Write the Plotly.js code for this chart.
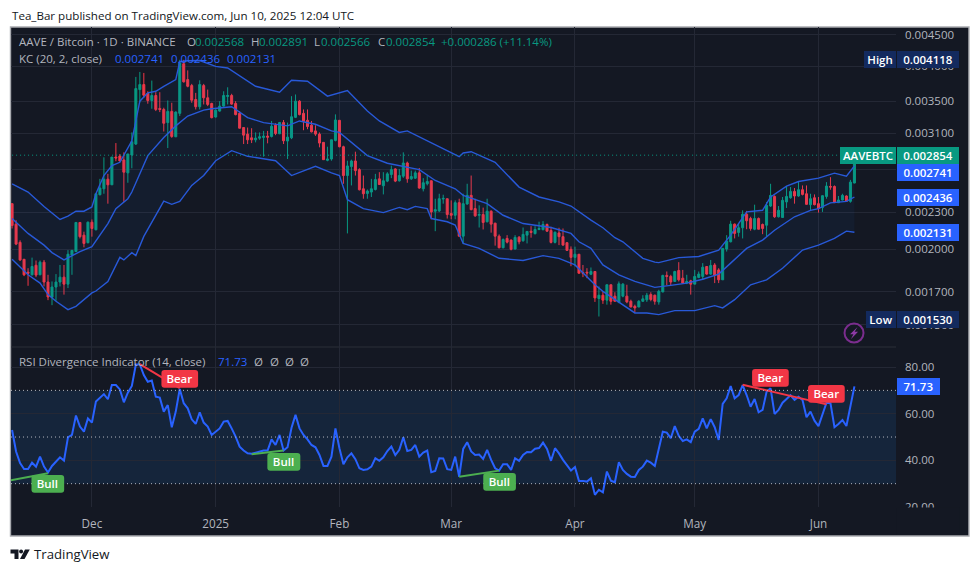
<!DOCTYPE html>
<html><head><meta charset="utf-8">
<script src="https://cdn.plot.ly/plotly-3.0.1.min.js"></script>
<style>html,body{margin:0;padding:0;background:#fff}#c{width:980px;height:572px}</style></head>
<body><div id="c"></div>
<script>
// AAVE/BTC daily candles, values in units of 0.000001 BTC, first candle 2024-11-11
const firstDay = '2024-11-11';
const opens = [2375,2198,2051,1924,1832,1814,1881,1814,1903,1765,1666,1732,1765,1798,1751,1955,1981,2212,2108,2049,2214,2152,2457,2513,2606,2551,2834,2845,2803,2669,2856,2977,3659,3729,3605,3511,3578,3407,3394,3229,3369,3060,3344,4035,3800,3715,3524,3429,3715,3547,3472,3298,3373,3437,3565,3578,3472,3344,3169,3091,3048,3025,3044,3052,3068,3064,3197,3095,3229,3011,3048,3294,3502,3344,3257,3197,3129,3091,2996,2799,2813,3018,3257,2947,2642,2733,2792,2702,2513,2469,2482,2506,2609,2542,2587,2652,2709,2590,2636,2771,2609,2616,2669,2513,2561,2590,2308,2311,2417,2420,2288,2273,2384,2100,2372,2451,2331,2273,2279,2218,2308,2206,2100,2010,2082,2069,2000,2092,2064,2108,2140,2120,2154,2152,2195,2146,2051,2126,2096,2049,1998,1938,1961,1830,1832,1818,1837,1658,1679,1648,1747,1673,1635,1673,1673,1641,1610,1606,1641,1650,1683,1679,1637,1700,1810,1803,1769,1844,1791,1758,1773,1751,1796,1803,1872,1819,1883,1848,1780,2000,2056,2198,2130,2168,2282,2245,2156,2245,2195,2189,2354,2441,2260,2254,2391,2429,2488,2445,2504,2466,2366,2429,2375,2340,2441,2535,2535,2384,2408,2445,2396,2568];
const highs = [2375,2231,2067,1924,1860,1936,1915,1915,1919,1814,1769,1819,1883,1883,1992,1992,2212,2212,2136,2220,2237,2466,2609,2831,2659,2834,2988,2867,2885,2867,3111,3839,3912,3897,3636,3786,3623,3623,3416,3511,3481,3369,4096,4096,3935,3739,3614,3790,3739,3659,3481,3394,3502,3636,3691,3601,3502,3373,3173,3169,3161,3111,3111,3129,3129,3249,3221,3237,3261,3229,3569,3592,3515,3394,3394,3249,3197,3111,2996,2947,3025,3331,3261,2958,2795,2806,2892,2716,2642,2506,2609,2659,2676,2676,2676,2743,2716,2709,2885,2785,2692,2692,2719,2616,2649,2593,2420,2466,2457,2420,2405,2405,2420,2466,2561,2642,2420,2360,2340,2420,2316,2209,2114,2082,2108,2074,2108,2100,2170,2138,2181,2181,2218,2223,2203,2176,2136,2168,2162,2049,2020,2018,1961,1883,1860,1865,1837,1736,1704,1747,1747,1698,1769,1758,1747,1651,1620,1648,1679,1694,1698,1683,1714,1814,1837,1814,1842,1903,1848,1814,1780,1848,1837,1896,1872,1919,1896,1860,2005,2108,2226,2203,2203,2316,2311,2260,2366,2254,2203,2391,2561,2451,2354,2436,2539,2529,2520,2583,2545,2545,2466,2460,2436,2451,2577,2626,2545,2445,2466,2451,2599,2891];
const lows = [2162,2030,1912,1805,1740,1810,1798,1812,1736,1648,1617,1643,1736,1683,1725,1814,1981,2082,2013,2043,2096,2146,2451,2466,2375,2551,2789,2789,2391,2571,2716,2966,3485,3547,3468,3403,3373,3360,3122,2932,3048,3056,3310,3758,3691,3481,3394,3394,3459,3437,3281,3290,3365,3429,3459,3455,3319,3157,2977,2977,2988,2996,3025,2838,2985,3052,3079,3091,2977,2813,3033,3285,3319,3137,3149,3111,3071,2940,2803,2789,2795,3007,2940,2561,2122,2545,2642,2497,2420,2420,2436,2497,2551,2460,2577,2616,2577,2583,2619,2571,2599,2609,2513,2488,2545,2239,2140,2302,2375,2245,2239,2239,2098,2038,2366,2316,2260,2170,2154,2212,2128,2026,2005,2005,2043,1990,1998,2036,2056,2043,2088,2114,2148,2148,2136,2043,2043,2030,2026,1985,1874,1874,1823,1798,1791,1812,1637,1549,1625,1620,1620,1641,1629,1666,1629,1604,1570,1604,1637,1637,1641,1620,1620,1698,1743,1743,1765,1769,1753,1751,1683,1751,1791,1780,1814,1814,1758,1758,1780,1981,2051,2082,2096,2082,2156,2144,2148,2154,2116,2096,2346,2251,2254,2251,2337,2420,2375,2438,2451,2366,2316,2360,2296,2302,2420,2504,2382,2382,2405,2391,2384,2566];
const closes = [2187,2038,1919,1814,1825,1872,1812,1903,1765,1668,1732,1765,1798,1751,1961,1990,2212,2096,2043,2214,2162,2466,2520,2606,2551,2834,2824,2792,2676,2867,3003,3673,3729,3582,3511,3578,3394,3394,3221,3369,3064,3360,4046,3768,3705,3515,3429,3729,3547,3459,3290,3385,3437,3578,3578,3463,3328,3161,3079,3025,3025,3044,3060,3068,3056,3185,3099,3229,3014,3056,3301,3502,3328,3241,3181,3118,3091,2988,2806,2813,3025,3261,2947,2642,2740,2792,2692,2504,2466,2491,2513,2602,2554,2590,2659,2702,2587,2642,2771,2609,2632,2669,2520,2571,2583,2302,2322,2420,2423,2279,2273,2384,2100,2375,2451,2322,2268,2279,2212,2308,2198,2100,2010,2074,2053,1998,2090,2056,2114,2138,2130,2154,2162,2195,2140,2051,2132,2096,2030,1990,1938,1961,1825,1825,1827,1837,1662,1679,1648,1747,1641,1641,1753,1751,1637,1606,1600,1641,1656,1679,1652,1641,1704,1810,1803,1765,1837,1780,1758,1769,1751,1803,1819,1867,1819,1879,1810,1780,2005,2061,2198,2122,2168,2282,2226,2162,2245,2156,2162,2360,2451,2260,2316,2405,2441,2488,2445,2504,2460,2369,2420,2366,2331,2448,2539,2529,2384,2408,2451,2396,2577,2854];
// Keltner channel readings: day number after the first candle, then value (0.000001 BTC)
const kcUpperDays = [0,4,8,12,14,16,18,20,21,23,25,27,30,31,32,34,36,38,41,42,44,47,51,54,61,67,70,74,79,84,89,92,97,99,104,112,113,115,121,127,132,137,140,145,148,151,153,158,161,162,167,172,177,180,184,188,190,194,197,202,206,209,211];
const kcUpper = [2561,2482,2349,2237,2265,2308,2308,2346,2466,2642,2743,2778,3014,3269,3502,3614,3636,3705,3800,4066,4081,4085,3995,3971,3705,3623,3790,3776,3569,3646,3373,3249,3111,3129,3014,2838,2878,2892,2778,2529,2436,2391,2354,2231,2168,2088,2056,1931,1903,1900,1936,1944,1992,2108,2302,2316,2436,2539,2583,2616,2666,2636,2741];
const kcBasisDays = [0,4,8,10,13,15,17,20,22,24,26,29,30,34,38,41,44,48,50,55,59,63,69,72,76,80,82,86,89,94,98,102,106,111,113,119,123,128,135,140,142,145,148,152,156,161,165,169,173,177,180,184,188,191,196,200,202,205,209,211];
const kcBasis = [2245,2122,2030,1973,1919,1948,1981,2018,2108,2203,2331,2420,2482,2849,3052,3189,3310,3385,3403,3429,3290,3229,3189,3249,3209,3129,3111,2958,2849,2768,2737,2702,2593,2513,2451,2375,2273,2203,2170,2122,2056,2005,1883,1814,1769,1730,1743,1758,1784,1819,1896,2005,2069,2148,2260,2316,2331,2382,2396,2436];
const kcLowerDays = [0,4,7,9,11,14,16,20,21,24,27,28,30,31,33,38,40,42,45,48,51,55,59,66,70,76,80,82,84,88,93,97,99,101,104,105,109,111,113,117,122,128,133,137,141,146,148,151,156,159,162,166,171,176,178,181,185,189,193,198,202,206,209,211];
const kcLower = [1924,1814,1758,1683,1641,1590,1610,1694,1706,1769,1938,1919,1973,1951,2098,2398,2369,2396,2545,2642,2795,2903,2842,2795,2642,2737,2669,2642,2411,2331,2296,2342,2322,2351,2331,2245,2218,2190,2043,2005,1931,1915,1951,1931,1883,1747,1704,1651,1570,1570,1560,1584,1584,1614,1600,1651,1747,1780,1860,1992,2030,2082,2140,2131];
// RSI (14), one value per candle
const rsi = [53.0,43.8,38.8,36.3,36.3,39.0,37.3,41.6,37.3,34.8,37.6,39.5,41.3,39.9,49.9,50.9,59.2,54.5,52.3,58.0,56.2,65.2,66.6,68.4,66.2,72.3,72.3,70.4,64.9,69.0,71.9,81.1,81.1,76.6,73.7,74.2,67.3,66.9,60.9,63.7,54.2,60.9,70.6,64.5,62.3,57.6,55.6,60.6,56.2,54.5,50.9,52.3,53.7,56.6,56.9,53.7,50.2,45.9,44.2,43.0,42.8,43.3,43.9,44.2,44.2,49.0,46.6,50.9,44.2,45.6,54.0,59.5,53.7,50.9,49.0,46.6,45.6,42.3,37.6,37.6,41.6,53.7,45.2,38.3,41.3,43.0,40.5,36.6,35.9,36.2,37.3,40.9,39.8,41.3,44.0,45.9,42.3,44.5,49.9,44.0,44.5,46.6,41.6,43.3,44.2,34.9,35.5,40.9,40.8,36.2,35.9,41.6,33.0,44.9,47.8,43.8,42.3,42.5,40.6,44.5,40.2,36.6,35.6,38.3,38.3,35.9,40.9,39.8,42.3,43.6,43.5,45.0,45.3,47.6,44.9,39.8,45.2,43.0,40.2,38.0,35.6,37.1,31.2,31.2,30.9,32.3,25.2,27.4,26.3,35.2,31.3,30.6,39.2,35.9,34.2,33.0,32.9,35.9,37.3,39.9,39.0,37.6,44.5,52.3,51.9,49.5,54.7,50.5,48.3,49.0,47.8,52.3,53.5,58.0,53.7,57.7,54.2,48.8,64.2,66.6,71.9,66.6,68.0,72.3,68.0,63.0,66.3,60.6,61.6,69.4,70.9,59.9,61.6,64.7,66.3,67.9,65.9,67.3,65.9,58.5,60.9,57.0,54.7,59.5,64.7,64.5,54.2,55.6,57.3,54.7,63.7,71.73];
// Divergence segments: [start day, start RSI, end day, end RSI]
const bullLines = [[-1,31.2,9,34.5],[60,42.6,68,44.2],[112,33.0,122,35.6]];
const bearLines = [[32,81.3,42,71.0],[183,72.4,204,64.0]];
const priceTicks = [0.0045,0.0040,0.0035,0.0031,0.0027,0.0023,0.0020,0.0017,0.0015];
const priceTickLabels = ['0.004500','0.004000','0.003500','0.003100','','0.002300','0.002000','0.001700','0.001500'];
const rsiTicks = [20,40,60,80];
const rsiTickLabels = ['20.00','40.00','60.00','80.00'];
const monthTicks = ['2024-12-01','2025-01-01','2025-02-01','2025-03-01','2025-04-01','2025-05-01','2025-06-01'];
const monthLabels = ['Dec','2025','Feb','Mar','Apr','May','Jun'];

// ---- helpers
const W=980,H=572,L=10.5,R=896,T=27,B=507,SPLIT=347;
const px=x=>(x-L)/(R-L), py=y=>(B-y)/(B-T);
const FONT='"Open Sans", sans-serif';
const BG='#141823', GRID='#242835', TXT='#b2b5be', GREEN='#089981', RED='#f23645', BLUE='#2962ff', BAND='#2859d8', BULL='#4caf50';
const day=i=>{const d=new Date(Date.parse(firstDay+'T00:00:00Z')+i*864e5);return d.toISOString().slice(0,10)};
const dates=opens.map((_,i)=>day(i));
const u=a=>a.map(v=>v/1e6);

const traces=[
 {type:'scatter',mode:'lines',x:kcUpperDays.map(day),y:u(kcUpper),line:{color:BAND,width:1.4},hoverinfo:'skip',xaxis:'x',yaxis:'y'},
 {type:'scatter',mode:'lines',x:kcLowerDays.map(day),y:u(kcLower),line:{color:BAND,width:1.4},fill:'tonexty',fillcolor:'rgba(33,130,243,0.055)',hoverinfo:'skip',xaxis:'x',yaxis:'y'},
 {type:'scatter',mode:'lines',x:kcBasisDays.map(day),y:u(kcBasis),line:{color:BAND,width:1.4},hoverinfo:'skip',xaxis:'x',yaxis:'y'},
 {type:'candlestick',x:dates,open:u(opens),high:u(highs),low:u(lows),close:u(closes),whiskerwidth:0,
  increasing:{line:{color:GREEN,width:1},fillcolor:GREEN},decreasing:{line:{color:RED,width:1},fillcolor:RED},xaxis:'x',yaxis:'y',hoverinfo:'skip'},
 {type:'scatter',mode:'lines',x:dates,y:rsi,line:{color:BLUE,width:2},hoverinfo:'skip',xaxis:'x',yaxis:'y2'}
];
bullLines.forEach(s=>traces.push({type:'scatter',mode:'lines',x:[day(s[0]),day(s[2])],y:[s[1],s[3]],line:{color:BULL,width:2},hoverinfo:'skip',xaxis:'x',yaxis:'y2'}));
bearLines.forEach(s=>traces.push({type:'scatter',mode:'lines',x:[day(s[0]),day(s[2])],y:[s[1],s[3]],line:{color:RED,width:2},hoverinfo:'skip',xaxis:'x',yaxis:'y2'}));

const ann=[];
const rounded=[];
function tag(t,x0,x1,y0,y1,bg,fg,size){ann.push({xref:'paper',yref:'paper',x:px(x0),y:py(y0),xanchor:'left',yanchor:'top',showarrow:false,text:t,
  width:x1-x0,height:y1-y0,bgcolor:bg,borderpad:0,borderwidth:0,align:'center',valign:'middle',font:{family:FONT,size:size||11.5,color:fg||'#fff',weight:600}});}
function pill(t,x0,x1,y0,y1,bg){
  const r=3,X=v=>px(v).toFixed(5),Y=v=>py(v).toFixed(5);
  rounded.push({type:'path',xref:'paper',yref:'paper',layer:'above',fillcolor:bg,line:{width:0},
   path:`M${X(x0+r)},${Y(y0)}L${X(x1-r)},${Y(y0)}Q${X(x1)},${Y(y0)} ${X(x1)},${Y(y0+r)}L${X(x1)},${Y(y1-r)}Q${X(x1)},${Y(y1)} ${X(x1-r)},${Y(y1)}L${X(x0+r)},${Y(y1)}Q${X(x0)},${Y(y1)} ${X(x0)},${Y(y1-r)}L${X(x0)},${Y(y0+r)}Q${X(x0)},${Y(y0)} ${X(x0+r)},${Y(y0)}Z`});
  tag(t,x0,x1,y0,y1,'rgba(0,0,0,0)');
}
function txt(t,x,y,c,s,w){ann.push({xref:'paper',yref:'paper',x:px(x),y:py(y),xanchor:'left',yanchor:'middle',showarrow:false,text:t,align:'left',borderpad:0,font:{family:FONT,size:s||11.5,color:c||TXT,weight:w||400}});}
const NAVY='#132a5e';
tag('High',864,896,51,68,NAVY);
tag('0.004118',897,959,51,68,NAVY);
tag('AAVEBTC',840,896,147,163.7,GREEN);
tag('0.002854',897,959,147,163.7,GREEN);
tag('0.002741',897,959,164.3,181,BLUE);
tag('0.002436',897,959,189,206,BLUE);
tag('0.002131',897,959,224,240.7,BLUE);
tag('Low',866,896,311.3,328,NAVY);
tag('0.001530',897,959,311.3,328,NAVY);
tag('71.73',897,940,378,394.7,BLUE);
pill('Bear',161,197.7,370,387.7,RED);
pill('Bear',752,788.7,369,386.7,RED);
pill('Bear',808,844.7,385,402.7,RED);
pill('Bull',31,63.7,475,492.7,BULL);
pill('Bull',267,300,453,470.7,BULL);
pill('Bull',483,515.7,473,490.7,BULL);
txt('Tea_Bar published on TradingView.com, Jun 10, 2025 12:04 UTC',10,15,'#131722',11.6);
txt('AAVE / Bitcoin · 1D · BINANCE',18,41);
txt('O',186,41);txt('0.002568',194,41,GREEN);
txt('H',250,41);txt('0.002891',257.5,41,GREEN);
txt('L',313,41);txt('0.002566',320,41,GREEN);
txt('C',377,41);txt('0.002854',385,41,GREEN);
txt('+0.000286 (+11.14%)',440,41,GREEN);
txt('KC (20, 2, close)',18,58);
txt('0.002741',114,58,BLUE);txt('0.002436',170,58,BLUE);txt('0.002131',225.5,58,BLUE);
txt('RSI Divergence Indicator (14, close)',18,361);
txt('71.73',217,361,BLUE);
txt('Ø',253,361);txt('Ø',269,361);txt('Ø',284,361);txt('Ø',299,361);
txt('TradingView',33,554,'#131722',13.2);

const rectP=(x0,x1,y0,y1,o)=>Object.assign({type:'rect',xref:'paper',yref:'paper',x0:px(x0),x1:px(x1),y0:py(y0),y1:py(y1)},o);
const DOTS='1px,3px';
const hl=(y,c)=>({type:'line',xref:'paper',yref:'y2',x0:0,x1:1,y0:y,y1:y,layer:'above',line:{color:c,width:1,dash:DOTS}});
const pxPath=pts=>'M'+pts.map(p=>px(p[0]).toFixed(5)+','+py(p[1]).toFixed(5)).join('L')+'Z';
const shapes=[
 rectP(10,969,27,536,{layer:'below',fillcolor:BG,line:{color:'#a9abb0',width:1.4}}),
 {type:'rect',xref:'paper',yref:'y2',x0:0,x1:1,y0:30,y1:70,layer:'below',fillcolor:'#15253b',line:{width:0}},
 rectP(L,R,SPLIT-0.5,SPLIT+0.5,{layer:'below',fillcolor:'#2a2e39',line:{width:0}}),
 hl(70,'#b2b5be'),hl(50,'#b2b5be'),hl(30,'#b2b5be'),
 {type:'line',xref:'x',yref:'y',x0:day(-1),x1:day(207),y0:0.002854,y1:0.002854,layer:'above',line:{color:GREEN,width:1,dash:DOTS}},
 rectP(897,960,507.6,535,{layer:'above',fillcolor:BG,line:{width:0}}),
 {type:'circle',xref:'paper',yref:'paper',x0:px(844.5),x1:px(863.5),y0:py(342.5),y1:py(323.5),layer:'above',line:{color:'#7b2d8e',width:2},fillcolor:'rgba(0,0,0,0)'},
 {type:'path',xref:'paper',yref:'paper',layer:'above',fillcolor:'#8e3aa6',line:{width:0},path:pxPath([[857.5,327],[850,334.2],[853.4,334.2],[850.8,339.3],[858,331.8],[854.6,331.8]])},
 {type:'path',xref:'paper',yref:'paper',layer:'above',fillcolor:'#131722',line:{width:0},path:pxPath([[10,549.5],[18,549.5],[18,559],[14,559],[14,553.5],[10,553.5]])},
 {type:'circle',xref:'paper',yref:'paper',layer:'above',x0:px(18.6),x1:px(22.6),y0:py(553.6),y1:py(549.6),fillcolor:'#131722',line:{width:0}},
 {type:'path',xref:'paper',yref:'paper',layer:'above',fillcolor:'#131722',line:{width:0},path:pxPath([[24.5,549.5],[29.3,549.5],[24,559],[19.5,559]])}
].concat(rounded);

const layout={
 width:W,height:H,autosize:false,showlegend:false,boxgap:0.5,boxgroupgap:0,
 margin:{l:L,r:W-R,t:T,b:H-B,pad:0},
 paper_bgcolor:'#ffffff',plot_bgcolor:BG,
 font:{family:FONT,size:11.5,color:TXT},
 xaxis:{type:'date',anchor:'y2',domain:[0,1],range:['2024-11-10 17:30','2025-06-20 10:00'],tickmode:'array',tickvals:monthTicks,ticktext:monthLabels,
   showgrid:true,gridcolor:GRID,gridwidth:1,zeroline:false,showline:false,ticks:'',ticklabelstandoff:8,rangeslider:{visible:false},fixedrange:true,tickfont:{family:FONT,size:11.7,color:TXT}},
 yaxis:{type:'log',domain:[(B-SPLIT)/(B-T),1],range:[Math.log10(0.00138),Math.log10(0.004638)],side:'right',anchor:'x',tickmode:'array',tickvals:priceTicks,ticktext:priceTickLabels,
   showgrid:true,gridcolor:GRID,gridwidth:1,zeroline:false,showline:false,ticks:'',ticklabelstandoff:8,fixedrange:true,tickfont:{family:FONT,size:11.5,color:TXT}},
 yaxis2:{domain:[0,(B-SPLIT)/(B-T)],range:[20,88.6],side:'right',anchor:'x',tickmode:'array',tickvals:rsiTicks,ticktext:rsiTickLabels,
   showgrid:true,gridcolor:GRID,gridwidth:1,zeroline:false,showline:false,ticks:'',ticklabelstandoff:8,fixedrange:true,tickfont:{family:FONT,size:11.5,color:TXT}},
 shapes:shapes,annotations:ann
};
Plotly.newPlot('c',traces,layout,{displayModeBar:false,staticPlot:true});
</script></body></html>
